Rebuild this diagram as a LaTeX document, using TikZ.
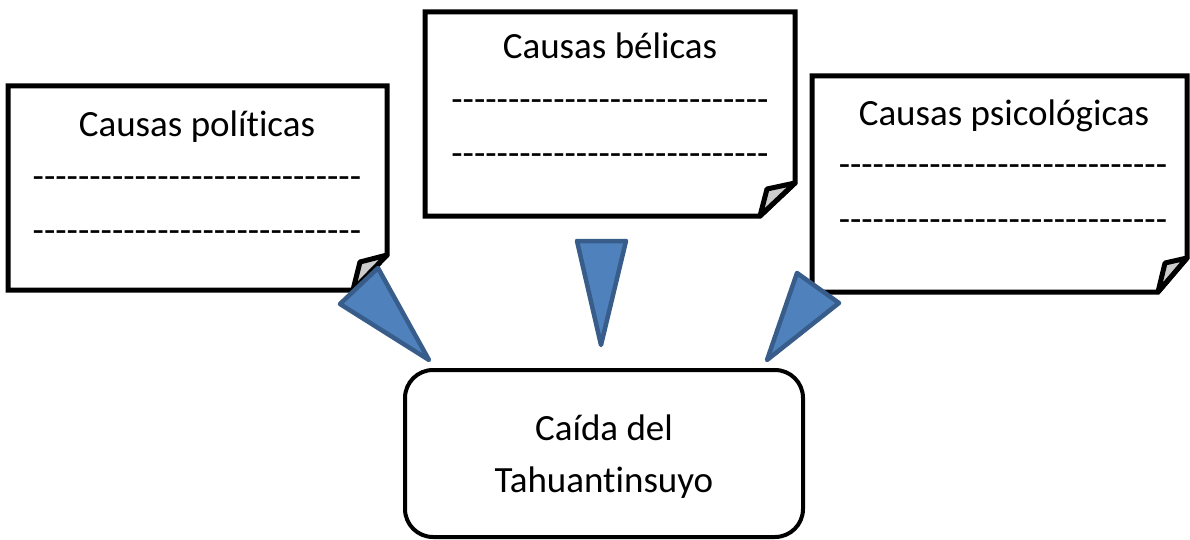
\documentclass[tikz,border=0pt]{standalone}
\usepackage{fontspec}
\setmainfont{Carlito}[Ligatures={TeXOff,NoCommon}]
\definecolor{trifill}{HTML}{4F81BD}
\definecolor{triline}{HTML}{385D8A}
\begin{document}
\begin{tikzpicture}[x=1pt,y=-1pt,
  note/.style={draw=black,line width=5pt,fill=white,line join=miter},
  flap/.style={draw=black,line width=5pt,fill=black!20,line join=round},
  tri/.style={draw=triline,fill=trifill,line width=4.5pt,line join=round},
  lbl/.style={font=\fontsize{37}{44}\selectfont,inner sep=0pt,anchor=base},
  dashline/.style={font=\fontsize{37}{44}\selectfont,inner sep=0pt,anchor=base}]
\useasboundingbox (0,0) rectangle (1190,540);
% left note
\draw[note] (8,86) -- (387,86) -- (387,255) -- (353,290) -- (8,290) -- cycle;
\draw[flap] (353,290) -- (360,262) -- (387,255) -- cycle;
% middle note
\draw[note] (425,12) -- (795,12) -- (795,183) -- (760,216) -- (425,216) -- cycle;
\draw[flap] (760,216) -- (767,189) -- (795,183) -- cycle;
% right note
\draw[note] (812,76) -- (1187,76) -- (1187,258) -- (1158,292) -- (812,292) -- cycle;
\draw[flap] (1158,292) -- (1165,263) -- (1187,258) -- cycle;
% texts
\node[lbl] (tp) at (197,137) {Causas políticas};
\node[dashline] (dp1) at (197,188) {-----------------------------};
\node[dashline] (dp2) at (197,242) {-----------------------------};
\node[lbl] (tb) at (610,59) {Causas bélicas};
\node[dashline] (db1) at (610,112) {----------------------------};
\node[dashline] (db2) at (610,166) {----------------------------};
\node[lbl] (ts) at (1004,126) {Causas psicológicas};
\node[dashline] (ds1) at (1003,177) {-----------------------------};
\node[dashline] (ds2) at (1003,231) {-----------------------------};
% bottom box
\draw[draw=black,line width=4pt,rounded corners=28pt] (405,370) rectangle (803,537);
\node[lbl] (c1) at (604,440) {Caída del};
\node[lbl] (c2) at (604,492) {Tahuantinsuyo};
% triangles
\draw[tri] (340,304) -- (378,268) -- (429,360) -- cycle;
\draw[tri] (577,241) -- (626,241) -- (601,345) -- cycle;
\draw[tri] (797,273) -- (839,303) -- (767,360) -- cycle;
\end{tikzpicture}
\end{document}
